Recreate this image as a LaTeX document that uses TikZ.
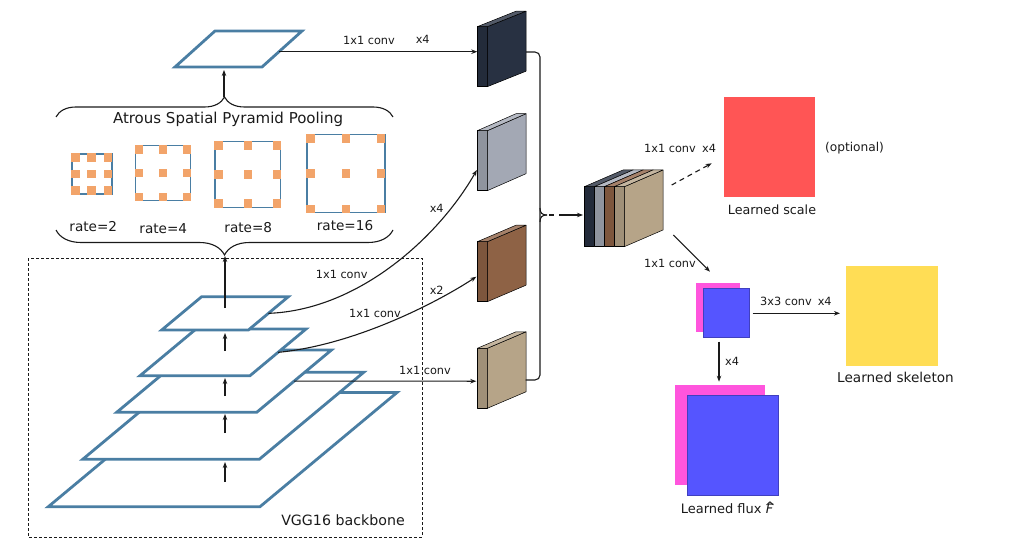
\documentclass[tikz,border=0pt]{standalone}
\usepackage{fontspec}
\setmainfont{DejaVu Sans}
\usetikzlibrary{arrows.meta,decorations.pathreplacing}
\definecolor{layerblue}{HTML}{4A7EA3}
\definecolor{dotorange}{HTML}{F2A46A}
\definecolor{slabdark}{HTML}{283142}
\definecolor{slabgray}{HTML}{A3A8B4}
\definecolor{slabbrown}{HTML}{8E6245}
\definecolor{slabtan}{HTML}{B6A488}
\definecolor{scalered}{HTML}{FF5555}
\definecolor{skelyellow}{HTML}{FFDD55}
\definecolor{fluxmag}{HTML}{FF55DD}
\definecolor{fluxblue}{HTML}{5555FF}
\definecolor{txt}{HTML}{1A1A1A}
\newcommand\layerpg[5]{% name, x bottom-left, y bottom, width, height
  \filldraw[layer] (#2,#3) -- (#2+#4,#3) -- (#2+#4+1.2*#5,#3-#5) -- (#2+1.2*#5,#3-#5) -- cycle;
  \coordinate (#1-r) at (#2+#4+0.6*#5,#3-0.5*#5);
}
\newcommand\slabbox[5]{% name, x, y top, colour, depth dy
  \filldraw[slabline, fill=#4!88!black] (#2,#3) rectangle ++(10,60);
  \filldraw[slabline, fill=#4] (#2+10,#3) -- ++(38.7,-#5) -- ++(0,60) -- ++(-38.7,#5) -- cycle;
  \filldraw[slabline, fill=#4!80!white] (#2,#3) -- ++(10,0) -- ++(38.7,-#5) -- ++(-10,0) -- cycle;
  \coordinate (#1) at (#2,#3);
}
\newcommand\asppsq[3]{% cx, cy, size
  \draw[layerblue, line width=1.6pt] (#1-#3/2,#2-#3/2) rectangle (#1+#3/2,#2+#3/2);
  \foreach \i in {-1,0,1}{\foreach \j in {-1,0,1}{
    \fill[dotorange] ({#1+\i*(#3/2-3.7)-4.25},{#2+\j*(#3/2-3.7)-4.25}) rectangle ++(8.5,8.5);}}
}
\begin{document}
\begin{tikzpicture}[x=1pt,y=-1pt,
  layer/.style={draw=layerblue, fill=white, line width=2.8pt, line join=miter},
  slabline/.style={draw=black, line width=0.5pt, line join=round},
  arr/.style={-{Stealth[length=6pt,width=4.5pt]}, line width=1.1pt, draw=txt},
  conn/.style={line width=1.1pt, draw=txt},
  lbl/.style={inner sep=0pt, text=txt, font=\fontsize{11.3}{13}\selectfont},
  biglbl/.style={inner sep=0pt, text=txt, font=\fontsize{13}{15}\selectfont},
  ratelbl/.style={inner sep=0pt, text=txt, font=\fontsize{13.6}{16}\selectfont},
  bracestyle/.style={decorate, decoration={brace, amplitude=#1}, line width=1.1pt, draw=txt},
  sq/.style={inner sep=0pt, anchor=north west}
]
\useasboundingbox (0,0) rectangle (1016,553);

% ---------- VGG16 backbone box ----------
\draw[txt, line width=1pt, dash pattern=on 3pt off 2pt] (28,258) rectangle (422,537);
\node[ratelbl, font=\fontsize{14.2}{16}\selectfont] (vgg) at (343,520) {VGG16 backbone};

% ---------- pyramid layers ----------
\layerpg{L5}{48.3}{506.7}{211.7}{114.3}
\layerpg{L4}{82.7}{459.3}{176.6}{87}
\layerpg{L3}{116.7}{412.3}{140}{62.3}
\layerpg{L2}{140}{375.7}{110}{46.7}
\layerpg{L1}{161.7}{330}{86.7}{33.3}

\coordinate (a5) at (225,482); \coordinate (b4) at (225,462);
\coordinate (a4) at (225,433); \coordinate (b3) at (225,414);
\coordinate (a3) at (225,396); \coordinate (b2) at (225,378);
\coordinate (a2) at (225,351); \coordinate (b1) at (225,333);
\coordinate (a1) at (225,308); \coordinate (btip) at (225,256);
\draw[arr] (a5) -- (b4);
\draw[arr] (a4) -- (b3);
\draw[arr] (a3) -- (b2);
\draw[arr] (a2) -- (b1);
\draw[arr] (a1) -- (btip);

% ---------- ASPP ----------
\draw[bracestyle=20pt] (56,117) -- (393,117);
\draw[bracestyle=25pt] (393,230) -- (56,230);
\node[ratelbl, font=\fontsize{15}{17}\selectfont] (aspp) at (228,119) {Atrous Spatial Pyramid Pooling};
\asppsq{91.7}{174}{40}
\asppsq{163}{173.2}{55}
\asppsq{247.8}{174.5}{65.7}
\asppsq{345.8}{173.7}{78}
\node[ratelbl] (r2) at (93.3,226.7) {rate=2};
\node[ratelbl] (r4) at (163.3,228.3) {rate=4};
\node[ratelbl] (r8) at (248.3,227.7) {rate=8};
\node[ratelbl] (r16) at (345,226) {rate=16};

% ---------- ASPP output layer ----------
\filldraw[layer] (175,67) -- (262,67) -- (302,31) -- (215,31) -- cycle;
\coordinate (top-r) at (279,51.7);
\coordinate (top-b) at (224,97); \coordinate (top-in) at (224,70);
\draw[arr] (top-b) -- (top-in);

% ---------- side slabs ----------
\slabbox{dark}{477.3}{26.7}{slabdark}{15.5}
\slabbox{gray}{477.3}{130.7}{slabgray}{17}
\slabbox{brown}{477.3}{241.7}{slabbrown}{16.5}
\slabbox{tan}{477.3}{348.3}{slabtan}{16.5}
\coordinate (dark-in) at (477.3,51.7);
\coordinate (gray-in) at (476.8,170);
\coordinate (brown-in) at (476.3,276.7);
\coordinate (tan-in) at (476.3,381.2);
\coordinate (dark-out) at (526,52);
\coordinate (tan-out) at (525.5,380);

\draw[arr] (top-r) -- (dark-in);
\node[lbl] (c0) at (369,40) {1x1 conv};
\node[lbl] (c0x) at (422.7,39.3) {x4};

\draw[arr] (L1-r) .. controls (360,310) and (440,235) .. (gray-in);
\node[lbl] (c1) at (341.7,274) {1x1 conv};
\node[lbl] (c1x) at (436.7,208.3) {x4};

\draw[arr] (L2-r) .. controls (355,345) and (438,302) .. (brown-in);
\node[lbl] (c2) at (375,313.3) {1x1 conv};
\node[lbl] (c2x) at (436.7,290.7) {x2};

\draw[arr] (L3-r) -- (tan-in);
\node[lbl] (c3) at (425,370) {1x1 conv};

% ---------- concatenation ----------
\draw[conn, rounded corners=5pt] (dark-out) -- (540,52) -- (540,380) -- (tan-out);
\coordinate (nub) at (547,215);
\draw[conn] (540,208) .. controls (540,213) and (542,215) .. (nub);
\draw[conn] (540,222) .. controls (540,217) and (542,215) .. (nub);
\coordinate (cat-in) at (583,215);
\draw[arr, dash pattern=on 5pt off 5pt on 40pt off 0pt] (549,215) -- (cat-in);

\slabbox{catA}{584.3}{186.7}{slabdark}{16.7}
\slabbox{catB}{594.3}{186.7}{slabgray}{16.7}
\slabbox{catC}{604.3}{186.7}{slabbrown}{16.7}
\slabbox{catD}{614.3}{186.7}{slabtan}{16.7}

% ---------- outputs ----------
\node[sq, fill=scalered, minimum width=91.7pt, minimum height=99.4pt] (scale) at (723.3,97.3) {};
\node[biglbl, font=\fontsize{12.7}{15}\selectfont] (scalelbl) at (772,209.3) {Learned scale};
\node[biglbl, font=\fontsize{12.2}{15}\selectfont] (opt) at (854.5,148.3) {(optional)};

\coordinate (cat-o1) at (671.7,185); \coordinate (scale-in) at (711.7,163.3);
\draw[arr, dash pattern=on 5pt off 4pt] (cat-o1) -- (scale-in);
\node[lbl] (c4) at (670,148.3) {1x1 conv};
\node[lbl] (c4x) at (709,148.3) {x4};

\coordinate (cat-o2) at (673.3,235); \coordinate (flux-in) at (710,271.7);
\draw[arr] (cat-o2) -- (flux-in);
\node[lbl] (c5) at (670,263.3) {1x1 conv};

\node[sq, fill=fluxmag, minimum width=44.3pt, minimum height=49.4pt] (fsm) at (695.7,282.3) {};
\node[sq, fill=fluxblue, draw=fluxblue!75!black, line width=0.5pt, minimum width=45.7pt, minimum height=49pt] (fsb) at (703.3,288.3) {};

\coordinate (fs-o1) at (752.7,313.3); \coordinate (skel-in) at (840,313.3);
\draw[arr] (fs-o1) -- (skel-in);
\node[lbl] (c6) at (786,301.7) {3x3 conv};
\node[lbl] (c6x) at (824.7,301.7) {x4};

\node[sq, fill=skelyellow, minimum width=91.3pt, minimum height=100pt] (skel) at (846,265.7) {};
\node[biglbl, font=\fontsize{13.6}{16}\selectfont] (skellbl) at (895.5,377.7) {Learned skeleton};

\coordinate (fs-o2) at (719,341.7); \coordinate (bf-in) at (719,381.7);
\draw[arr] (fs-o2) -- (bf-in);
\node[lbl] (c7) at (732,361.7) {x4};

\node[sq, fill=fluxmag, minimum width=90.7pt, minimum height=100pt] (fbm) at (674.3,385) {};
\node[sq, fill=fluxblue, draw=fluxblue!75!black, line width=0.5pt, minimum width=91pt, minimum height=100pt] (fbb) at (686.7,395) {};
\node[biglbl, font=\fontsize{13}{15}\selectfont] (fluxlbl) at (727,507.7) {Learned flux {\itshape\accent"5E F}};
\end{tikzpicture}
\end{document}
